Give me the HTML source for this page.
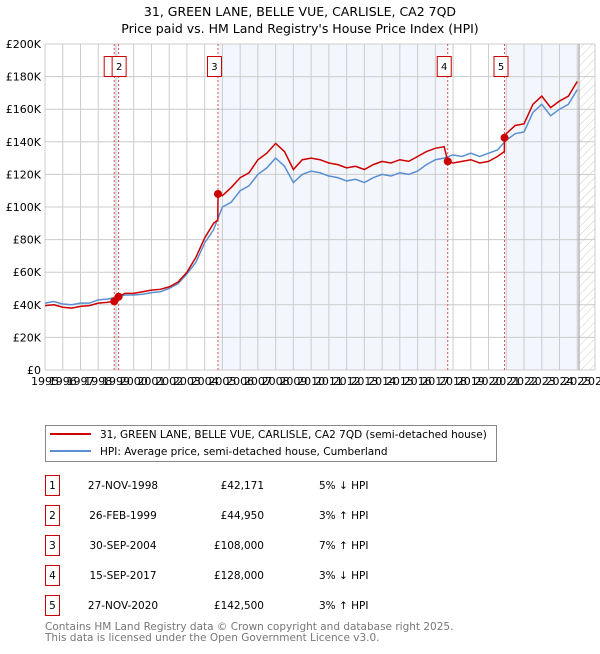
<!DOCTYPE html>
<html><head><meta charset="utf-8"><style>
body{margin:0;background:#fff;width:600px;height:650px;overflow:hidden;font-family:"DejaVu Sans","Liberation Sans",sans-serif}
svg text{font-family:"DejaVu Sans","Liberation Sans",sans-serif}
</style></head><body>
<svg id="c" width="600" height="650" xmlns="http://www.w3.org/2000/svg">
<defs><pattern id="hatch" width="6" height="6" patternUnits="userSpaceOnUse" patternTransform="rotate(45)"><line x1="0" y1="0" x2="0" y2="6" stroke="#ccc" stroke-width="1"/></pattern></defs>
<text x="300" y="16" text-anchor="middle" font-size="12.5" fill="#000">31, GREEN LANE, BELLE VUE, CARLISLE, CA2 7QD</text>
<text x="300" y="33" text-anchor="middle" font-size="12.5" fill="#000">Price paid vs. HM Land Registry's House Price Index (HPI)</text>
<g id="plot"></g>
<g>
<rect x="45.5" y="425.5" width="451" height="36" fill="#fff" stroke="#888"/>
<line x1="50" y1="434" x2="91" y2="434" stroke="#cc0000" stroke-width="2"/>
<text x="100" y="438" font-size="10.5">31, GREEN LANE, BELLE VUE, CARLISLE, CA2 7QD (semi-detached house)</text>
<line x1="50" y1="451" x2="91" y2="451" stroke="#5b8fd1" stroke-width="2"/>
<text x="100" y="455" font-size="10.5">HPI: Average price, semi-detached house, Cumberland</text>
</g>
<g id="table"></g>
<text x="45" y="630" font-size="10.5" fill="#777">Contains HM Land Registry data © Crown copyright and database right 2025.</text>
<text x="45" y="641" font-size="10.5" fill="#777">This data is licensed under the Open Government Licence v3.0.</text>
</svg>
<script>
const yTicks=[0,20,40,60,80,100,120,140,160,180,200];
const years=[1995,1996,1997,1998,1999,2000,2001,2002,2003,2004,2005,2006,2007,2008,2009,2010,2011,2012,2013,2014,2015,2016,2017,2018,2019,2020,2021,2022,2023,2024,2025,2026];
const hpiDates=[1995,1995.5,1996,1996.5,1997,1997.5,1998,1998.5,1999,1999.5,2000,2000.5,2001,2001.5,2002,2002.5,2003,2003.5,2004,2004.5,2005,2005.5,2006,2006.5,2007,2007.5,2008,2008.5,2009,2009.5,2010,2010.5,2011,2011.5,2012,2012.5,2013,2013.5,2014,2014.5,2015,2015.5,2016,2016.5,2017,2017.5,2018,2018.5,2019,2019.5,2020,2020.5,2021,2021.5,2022,2022.5,2023,2023.5,2024,2024.5,2025];
const hpiValues=[41,42,40.5,40,41,41,43,43.5,44.5,46,46,46.5,47.5,48,50,53,59,66,78,86,100,103,110,113,120,124,130,125,115,120,122,121,119,118,116,117,115,118,120,119,121,120,122,126,129,130,132,131,133,131,133,135,141,145,146,158,163,156,160,163,172];
const priceDates=[1995,1995.5,1996,1996.5,1997,1997.5,1998,1998.5,1998.9,1999.15,1999.5,2000,2000.5,2001,2001.5,2002,2002.5,2003,2003.5,2004,2004.5,2004.74,2004.75,2005,2005.5,2006,2006.5,2007,2007.5,2008,2008.5,2009,2009.5,2010,2010.5,2011,2011.5,2012,2012.5,2013,2013.5,2014,2014.5,2015,2015.5,2016,2016.5,2017,2017.5,2017.7,2018,2018.5,2019,2019.5,2020,2020.5,2020.89,2020.9,2021,2021.5,2022,2022.5,2023,2023.5,2024,2024.5,2025];
const priceValues=[39.5,40,38.5,38,39,39.5,41,41.5,42.2,44.95,47,47,48,49,49.5,51,54,60,69,81,90,92,108,107,112,118,121,129,133,139,134,123,129,130,129,127,126,124,125,123,126,128,127,129,128,131,134,136,137,128,127,128,129,127,128,131,134,142.5,145,150,151,163,168,161,165,168,177];
const saleLabels=["1","2","3","4","5"];
const saleDates=[1998.9,1999.15,2004.75,2017.7,2020.9];
const salePrices=[42.171,44.95,108,128,142.5];
const saleDateText=["27-NOV-1998","26-FEB-1999","30-SEP-2004","15-SEP-2017","27-NOV-2020"];
const salePriceText=["£42,171","£44,950","£108,000","£128,000","£142,500"];
const saleHpiText=["5% ↓ HPI","3% ↑ HPI","7% ↑ HPI","3% ↓ HPI","3% ↑ HPI"];
const L=45,R=595,T=44,B=370,x0=1995,x1=2026,ymax=200;
const X=v=>L+(v-x0)/(x1-x0)*(R-L);
const Y=v=>B-v/ymax*(B-T);
const NS="http://www.w3.org/2000/svg";
const plot=document.getElementById('plot');
function mk(tag,attrs,parent){const e=document.createElementNS(NS,tag);for(const k in attrs)e.setAttribute(k,attrs[k]);(parent||plot).appendChild(e);return e;}
let s=mk('rect',{x:X(saleDates[0]),y:T,width:X(saleDates[1])-X(saleDates[0]),height:B-T,fill:'#eef2fb'});


s=mk('rect',{x:X(saleDates[2]),y:T,width:X(saleDates[3])-X(saleDates[2]),height:B-T,fill:'#eef2fb',opacity:0.7});


s=mk('rect',{x:X(saleDates[4]),y:T,width:X(2025.1)-X(saleDates[4]),height:B-T,fill:'#eef2fb',opacity:0.7});


s=mk('rect',{x:X(2025.1),y:T,width:R-X(2025.1),height:B-T,fill:'url(#hatch)'});


years.forEach(y=>{const l=mk('line',{x1:X(y),x2:X(y),y1:T,y2:B,stroke:'#ccc','stroke-width':1});


const t=mk('text',{x:X(y),y:B+15,'font-size':11,'text-anchor':'middle'});t.textContent=y;

});
yTicks.forEach(v=>{const l=mk('line',{x1:L,x2:R,y1:Y(v),y2:Y(v),stroke:'#ccc','stroke-width':1});


const t=mk('text',{x:L-4,y:Y(v)+4,'font-size':11,'text-anchor':'end'});t.textContent=v===0?'£0':'£'+v+'K';

});
const nl=mk('line',{x1:X(2025.1),x2:X(2025.1),y1:T,y2:B,stroke:'#999','stroke-width':1});


saleDates.forEach((d,i)=>{const l=mk('line',{x1:X(d),x2:X(d),y1:T,y2:B,stroke:'#e05050','stroke-width':1,'stroke-dasharray':'2,2'});


if(i==0){const r=mk('rect',{x:X(d)-10,y:56.5,width:14,height:20,fill:'#fff',stroke:'#cc0000'});
return;}
const bx=i==1?X(d)-7:X(d)-11;
const r=mk('rect',{x:bx+0.5,y:56.5,width:14,height:20,fill:'#fff',stroke:'#cc0000'});


const t=mk('text',{x:bx+7.5,y:70,'font-size':10,'text-anchor':'middle'});t.textContent=saleLabels[i];

});
const hp=mk('polyline',{points:hpiDates.map((d,i)=>X(d)+','+Y(hpiValues[i])).join(' '),fill:'none',stroke:'#5b8fd1','stroke-width':1.5});


const pp=mk('polyline',{points:priceDates.map((d,i)=>X(d)+','+Y(priceValues[i])).join(' '),fill:'none',stroke:'#cc0000','stroke-width':1.5});


saleDates.forEach((d,i)=>{const c=mk('circle',{cx:X(d),cy:Y(salePrices[i]),r:4,fill:'#cc0000'});

});
const tb=document.getElementById('table');
saleLabels.forEach((lb,i)=>{const y0=475+i*30;
const r=mk('rect',{x:45.5,y:y0+0.5,width:14,height:20,fill:'#fff',stroke:'#cc0000'},tb);


const vals=[[52.5,lb,'middle'],[123,saleDateText[i],'middle'],[264,salePriceText[i],'end'],[319,saleHpiText[i],'start']];
vals.forEach((v,j)=>{const t=mk('text',{x:v[0],y:y0+14,'font-size':10.5,'text-anchor':v[2]},tb);t.textContent=v[1];

});});
</script>
</body></html>
